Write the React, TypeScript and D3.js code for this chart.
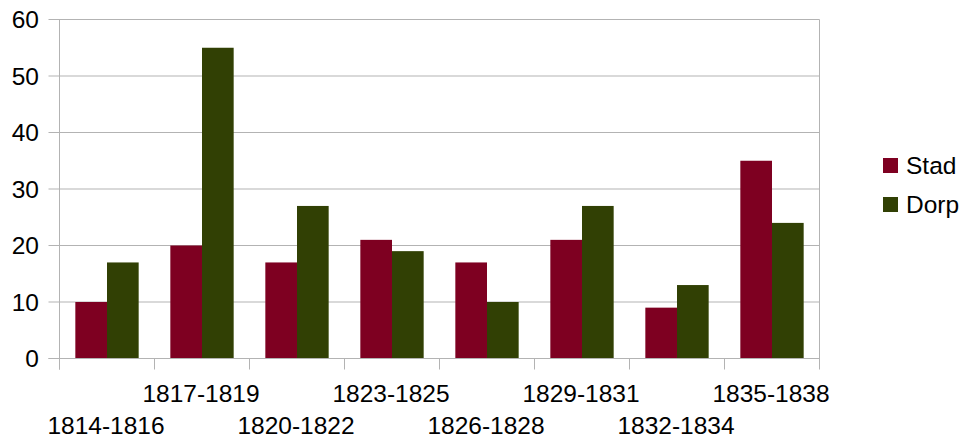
import React from "react";
import * as d3 from "d3";

const categories = ["1814-1816", "1817-1819", "1820-1822", "1823-1825", "1826-1828", "1829-1831", "1832-1834", "1835-1838"];
const stad = [10, 20, 17, 21, 17, 21, 9, 35];
const dorp = [17, 55, 27, 19, 10, 27, 13, 24];
const seriesNames = ["Stad", "Dorp"];
const seriesColors = ["#7e0021", "#314004"];
const yTicks = [0, 10, 20, 30, 40, 50, 60];

export default function App() {
  const W = 966, H = 443;
  const left = 59.5, right = 819.5, top = 19.5, bottom = 358.5;
  const x = d3.scaleBand<string>().domain(categories).range([left, right]).paddingInner(0).paddingOuter(0);
  const inner = d3.scaleBand<string>().domain(seriesNames).range([0, x.bandwidth()]).paddingOuter(0.5).paddingInner(0);
  const y = d3.scaleLinear().domain([0, 60]).range([bottom, top]);
  const series = [stad, dorp];
  const font = "'Liberation Sans', Arial, sans-serif";
  const grid = "#b3b3b3";
  const fs = 24.5;
  return (
    <svg width={W} height={H} style={{ position: "absolute", left: 0, top: 0, background: "#fff" }} fontFamily={font}>
      {yTicks.map((t) => (
        <g key={t}>
          <line x1={left - 11} x2={right} y1={y(t)} y2={y(t)} stroke={grid} strokeWidth={1} />
          <text x={39} y={y(t)} dy="0.35em" textAnchor="end" fontSize={fs} fill="#000">{t}</text>
        </g>
      ))}
      <line x1={left} x2={left} y1={top} y2={bottom + 11} stroke={grid} />
      <line x1={right} x2={right} y1={top} y2={bottom + 11} stroke={grid} />
      {categories.map((c) => (
        <line key={c} x1={x(c)!} x2={x(c)!} y1={bottom} y2={bottom + 11} stroke={grid} />
      ))}
      {categories.map((c, i) =>
        series.map((s, k) => (
          <rect key={c + k} x={x(c)! + inner(seriesNames[k])!} width={inner.bandwidth()} y={y(s[i])} height={y(0) - y(s[i])} fill={seriesColors[k]} />
        ))
      )}
      <line x1={left - 11} x2={right} y1={bottom} y2={bottom} stroke={grid} />
      {categories.map((c, i) => (
        <text key={c} x={x(c)! + x.bandwidth() / 2 - 1} y={i % 2 === 1 ? 401.5 : 433.5} textAnchor="middle" fontSize={fs} fill="#000">{c}</text>
      ))}
      {seriesNames.map((n, k) => (
        <g key={n}>
          <rect x={883} y={158 + k * 39} width={15} height={15} fill={seriesColors[k]} />
          <text x={906} y={165.5 + k * 39} dy="0.35em" fontSize={fs} fill="#000">{n}</text>
        </g>
      ))}
    </svg>
  );
}
